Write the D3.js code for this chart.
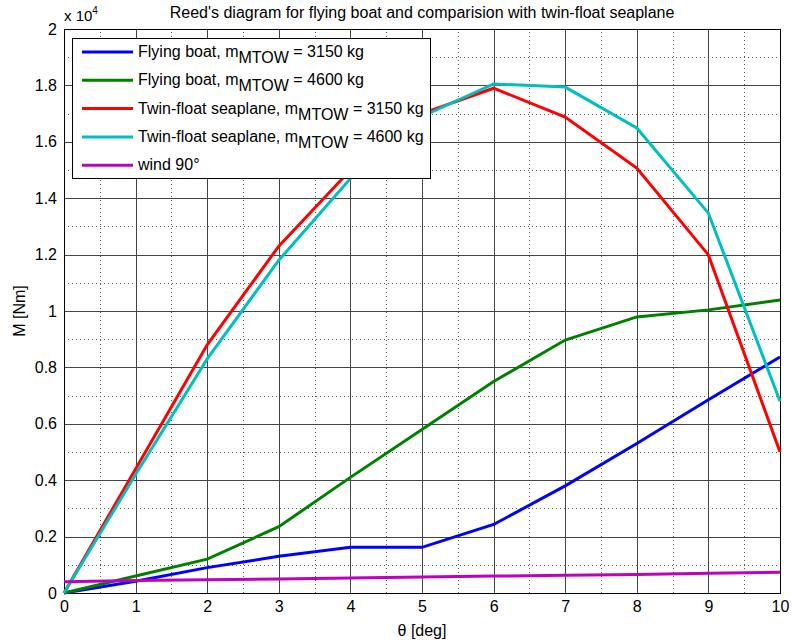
<!DOCTYPE html>
<html>
<head>
<meta charset="utf-8">
<script src="https://cdn.jsdelivr.net/npm/d3@7"></script>
<style>
  body { margin: 0; background: #fff; }
  svg { font-family: Arial, "Liberation Sans", sans-serif; }
</style>
</head>
<body>
<svg></svg>
<script>
let svgWidth = 792
let svgHeight = 644

let theta = [0, 1, 2, 3, 4, 5, 6, 7, 8, 9, 10]
let boat3150 = [0, 0.042, 0.09, 0.13, 0.162, 0.162, 0.243, 0.38, 0.53, 0.685, 0.837]
let boat4600 = [0, 0.06, 0.12, 0.235, 0.41, 0.58, 0.75, 0.897, 0.979, 1.004, 1.039]
let twin3150 = [0, 0.44, 0.88, 1.23, 1.50, 1.70, 1.79, 1.688, 1.507, 1.199, 0.50]
let twin4600 = [0, 0.42, 0.83, 1.18, 1.47, 1.69, 1.805, 1.794, 1.649, 1.347, 0.68]
let wind90 = [0.040, 0.044, 0.047, 0.050, 0.053, 0.057, 0.060, 0.063, 0.066, 0.070, 0.074]

let seriesNames = ['Flying boat, m', 'Flying boat, m', 'Twin-float seaplane, m', 'Twin-float seaplane, m', 'wind 90°']
let seriesSubs = ['MTOW', 'MTOW', 'MTOW', 'MTOW', '']
let seriesTails = [' = 3150 kg', ' = 4600 kg', ' = 3150 kg', ' = 4600 kg', '']
let seriesColors = ['#0000ff', '#008000', '#ff0000', '#00bfbf', '#bf00bf']
let seriesValues = [boat3150, boat4600, twin3150, twin4600, wind90]

let margin = { left: 64, right: 12, top: 29, bottom: 51 }

let svg = d3.select('svg')
    .attr('width', svgWidth)
    .attr('height', svgHeight)

let xScale = d3.scaleLinear()
    .domain([0, 10])
    .range([margin.left, svgWidth - margin.right])

let yScale = d3.scaleLinear()
    .domain([0, 2])
    .range([svgHeight - margin.bottom, margin.top])

/* Minor grid */
let xMinor = d3.range(0.5, 10, 1)
let yMinor = d3.range(0.1, 2, 0.2)

svg.append('g')
  .selectAll('line')
  .data(xMinor)
  .enter()
  .append('line')
    .attr('x1', d => Math.round(xScale(d)) + 0.5)
    .attr('x2', d => Math.round(xScale(d)) + 0.5)
    .attr('y1', yScale(0))
    .attr('y2', yScale(2))
    .attr('stroke', '#555')
    .attr('stroke-dasharray', '1,3')

svg.append('g')
  .selectAll('line')
  .data(yMinor)
  .enter()
  .append('line')
    .attr('x1', xScale(0))
    .attr('x2', xScale(10))
    .attr('y1', d => Math.round(yScale(d)) + 0.5)
    .attr('y2', d => Math.round(yScale(d)) + 0.5)
    .attr('stroke', '#555')
    .attr('stroke-dasharray', '1,3')

/* Major grid */
svg.append('g')
  .selectAll('line')
  .data(d3.range(1, 10))
  .enter()
  .append('line')
    .attr('x1', d => Math.round(xScale(d)) + 0.5)
    .attr('x2', d => Math.round(xScale(d)) + 0.5)
    .attr('y1', yScale(0))
    .attr('y2', yScale(2))
    .attr('stroke', '#444')

svg.append('g')
  .selectAll('line')
  .data(d3.range(1, 10).map(d => d * 0.2))
  .enter()
  .append('line')
    .attr('x1', xScale(0))
    .attr('x2', xScale(10))
    .attr('y1', d => Math.round(yScale(d)) + 0.5)
    .attr('y2', d => Math.round(yScale(d)) + 0.5)
    .attr('stroke', '#444')

/* Axes */
let xAxis = d3.axisBottom(xScale)
    .tickValues(theta)
    .tickSize(0)
    .tickPadding(8)

let yAxis = d3.axisLeft(yScale)
    .tickValues(d3.range(0, 11).map(d => d * 0.2))
    .tickFormat(d => d3.format('~g')(+d.toFixed(1)))
    .tickSize(0)
    .tickPadding(7)

svg.append('g')
    .attr('transform', `translate(0, ${yScale(0)})`)
    .call(xAxis)
  .call(g => g.select('.domain').remove())
  .selectAll('text')
    .style('font-size', '16px')
    .style('fill', '#000')

svg.append('g')
    .attr('transform', `translate(${xScale(0)}, 0)`)
    .call(yAxis)
  .call(g => g.select('.domain').remove())
  .selectAll('text')
    .style('font-size', '16px')
    .style('fill', '#000')

/* Plot box */
svg.append('rect')
    .attr('x', xScale(0) + 0.5)
    .attr('y', yScale(2) + 0.5)
    .attr('width', xScale(10) - xScale(0))
    .attr('height', yScale(0) - yScale(2))
    .attr('fill', 'none')
    .attr('stroke', '#000')

/* Lines */
let line = d3.line()
    .x((d, i) => xScale(theta[i]))
    .y(d => yScale(d))

svg.append('g')
  .selectAll('path')
  .data(seriesValues)
  .enter()
  .append('path')
    .attr('d', d => line(d))
    .attr('fill', 'none')
    .attr('stroke', (d, i) => seriesColors[i])
    .attr('stroke-width', 3)

/* Exponent */
let expText = svg.append('text')
    .attr('x', 64)
    .attr('y', 21)
    .style('font-size', '15px')
expText.append('tspan').text('x 10')
expText.append('tspan').attr('dy', -7).style('font-size', '10px').text('4')

/* Title */
svg.append('text')
    .attr('x', (xScale(0) + xScale(10)) / 2)
    .attr('y', 18)
    .style('text-anchor', 'middle')
    .style('font-size', '16px')
    .text("Reed's diagram for flying boat and comparision with twin-float seaplane")

/* Axis labels */
svg.append('text')
    .attr('x', (xScale(0) + xScale(10)) / 2)
    .attr('y', 636)
    .style('text-anchor', 'middle')
    .style('font-size', '16px')
    .text('θ [deg]')

svg.append('text')
    .attr('transform', `translate(25, ${(yScale(0) + yScale(2)) / 2}) rotate(-90)`)
    .style('text-anchor', 'middle')
    .style('font-size', '16px')
    .text('M [Nm]')

/* Legend */
let legend = svg.append('g')
    .attr('transform', 'translate(72, 38)')

legend.append('rect')
    .attr('x', 0.5)
    .attr('y', 0.5)
    .attr('width', 358)
    .attr('height', 140)
    .attr('fill', '#fff')
    .attr('stroke', '#000')

seriesNames.forEach((name, i) => {
  let cy = 14 + i * 28.3
  legend.append('line')
      .attr('x1', 10)
      .attr('x2', 61)
      .attr('y1', cy)
      .attr('y2', cy)
      .attr('stroke', seriesColors[i])
      .attr('stroke-width', 3)
  let t = legend.append('text')
      .attr('x', 66)
      .attr('y', cy + 5)
      .style('font-size', '16px')
  t.append('tspan').text(name)
  if (seriesSubs[i]) {
    t.append('tspan').attr('dy', 6).text(seriesSubs[i])
    t.append('tspan').attr('dy', -6).text(seriesTails[i])
  }
})
</script>
</body>
</html>
